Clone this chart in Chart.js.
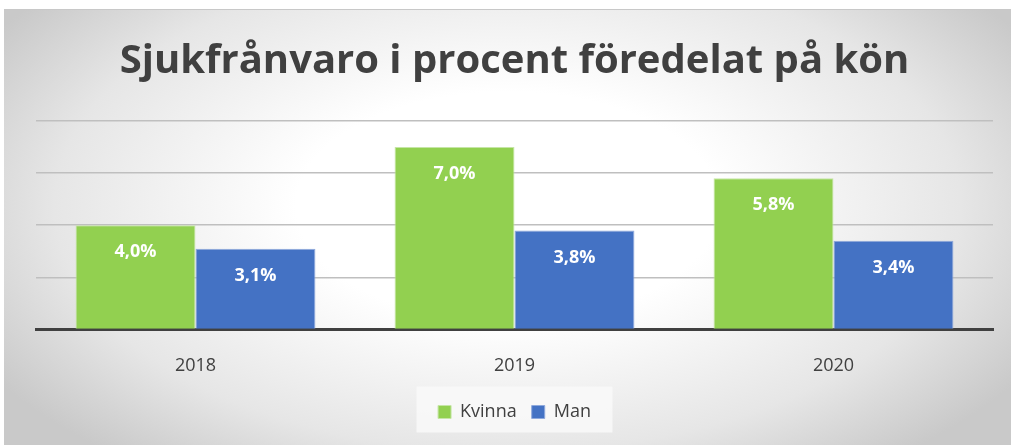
<!DOCTYPE html>
<html>
<head>
<meta charset="utf-8">
<script src="https://cdn.jsdelivr.net/npm/chart.js@4"></script>
<style>
  html, body { margin: 0; padding: 0; background: #fff; }
  #ram {
    position: absolute; left: 4px; top: 9px; width: 1007px; height: 436px;
    border-top: 1px solid #c8c8c8;
    background: radial-gradient(ellipse 60% 75% at 50% 45%, #ffffff 35%, #e6e6e6 75%, #c9c9c9 100%);
  }
  #wrap { position: absolute; left: 0; top: 0; width: 1011px; height: 445px; }
</style>
</head>
<body>
<div id="ram"></div>
<div id="wrap"><canvas id="sjuk-chart" width="1011" height="445"></canvas></div>
<script>
const ar = ['2018', '2019', '2020'];
const kvinna = [4.0, 7.0, 5.8];
const man = [3.1, 3.8, 3.4];
const yTicks = [0, 2, 4, 6, 8];

const fontNamn = "'Open Sans', 'DejaVu Sans', sans-serif";

// etiketter inuti staplarna, nära toppen
const etikettPlugin = {
    id: 'etiketter',
    afterDatasetsDraw(chart) {
        const ctx = chart.ctx;
        ctx.save();
        ctx.fillStyle = '#ffffff';
        ctx.font = 'bold 18px ' + fontNamn;
        ctx.textAlign = 'center';
        ctx.textBaseline = 'middle';
        chart.data.datasets.forEach(function(ds, i) {
            chart.getDatasetMeta(i).data.forEach(function(bar, j) {
                const txt = ds.data[j].toFixed(1).replace('.', ',') + '%';
                ctx.fillText(txt, bar.x, bar.y + 27);
            });
        });
        ctx.restore();
    }
};

// ljus ruta bakom förklaringen
const legendRuta = {
    id: 'legendRuta',
    beforeDraw(chart) {
        const l = chart.legend;
        if (!l) return;
        const ctx = chart.ctx;
        const w = 196;
        const cx = (l.left + l.right) / 2;
        const cy = (l.top + l.bottom) / 2;
        ctx.save();
        ctx.fillStyle = 'rgba(248,248,248,0.9)';
        ctx.fillRect(cx - w / 2, cy - 23, w, 46);
        ctx.restore();
    }
};

const ctx = document.getElementById('sjuk-chart').getContext('2d');
new Chart(ctx, {
    type: 'bar',
    data: {
        labels: ar,
        datasets: [{
            label: 'Kvinna',
            data: kvinna,
            backgroundColor: '#92d050',
            borderColor: '#c6e6a6',
            borderWidth: 1
        }, {
            label: 'Man',
            data: man,
            backgroundColor: '#4472c4',
            borderColor: '#8fa9dc',
            borderWidth: 1
        }]
    },
    options: {
        responsive: false,
        animation: false,
        layout: { padding: { left: 36, right: 18, bottom: 14 } },
        datasets: { bar: { categoryPercentage: 0.752, barPercentage: 1.0 } },
        plugins: {
            title: {
                display: true,
                text: 'Sjukfrånvaro i procent föredelat på kön',
                color: '#404040',
                font: { family: fontNamn, size: 40, weight: 'bold' },
                padding: { top: 38, bottom: 35 }
            },
            legend: {
                position: 'bottom',
                labels: {
                    color: '#404040',
                    font: { family: fontNamn, size: 18 },
                    boxWidth: 13,
                    boxHeight: 13,
                    padding: 15
                }
            },
            tooltip: { enabled: false }
        },
        scales: {
            x: {
                grid: { display: false },
                border: { color: '#404040', width: 3 },
                ticks: { color: '#404040', font: { family: fontNamn, size: 18 }, padding: 18 },
                afterFit(axis) { axis.height -= 7; }
            },
            y: {
                min: 0,
                max: 8,
                afterBuildTicks(axis) { axis.ticks = yTicks.map(v => ({ value: v })); },
                grid: { color: '#bfbfbf', lineWidth: 1.5, drawTicks: false },
                border: { display: false },
                ticks: { display: false }
            }
        }
    },
    plugins: [legendRuta, etikettPlugin]
});
</script>
</body>
</html>
